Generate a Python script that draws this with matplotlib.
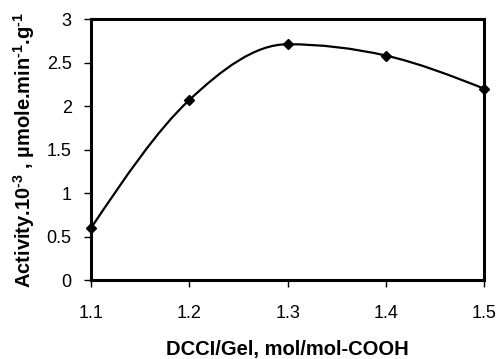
import matplotlib
matplotlib.use("Agg")
import matplotlib.pyplot as plt
from matplotlib.path import Path
from matplotlib.patches import PathPatch

# Datos
ratio = [1.1, 1.2, 1.3, 1.4, 1.5]
activity = [0.6, 2.07, 2.71, 2.58, 2.2]

x_ticks = [1.1, 1.2, 1.3, 1.4, 1.5]
y_ticks = [0, 0.5, 1, 1.5, 2, 2.5, 3]
x_tick_labels = ["1.1", "1.2", "1.3", "1.4", "1.5"]
y_tick_labels = ["0", "0.5", "1", "1.5", "2", "2.5", "3"]


def smooth_path(xs, ys):
    # curva suave: Bezier cubica, tangente central (0 en extremos locales)
    n = len(xs)
    d = [(ys[i + 1] - ys[i]) / (xs[i + 1] - xs[i]) for i in range(n - 1)]
    m = [0.0] * n
    for i in range(1, n - 1):
        if d[i - 1] * d[i] > 0:
            m[i] = (ys[i + 1] - ys[i - 1]) / (xs[i + 1] - xs[i - 1])
    m[0] = (3 * d[0] - m[1]) / 2
    m[-1] = (3 * d[-1] - m[-2]) / 2
    verts = [(xs[0], ys[0])]
    codes = [Path.MOVETO]
    for i in range(n - 1):
        h = xs[i + 1] - xs[i]
        verts += [(xs[i] + h / 3, ys[i] + m[i] * h / 3),
                  (xs[i + 1] - h / 3, ys[i + 1] - m[i + 1] * h / 3),
                  (xs[i + 1], ys[i + 1])]
        codes += [Path.CURVE4] * 3
    return Path(verts, codes)


def main():
    plt.rcParams["font.family"] = ["Liberation Sans", "DejaVu Sans"]
    plt.rcParams["mathtext.fontset"] = "custom"
    plt.rcParams["mathtext.rm"] = "Liberation Sans:bold"
    plt.rcParams["mathtext.bf"] = "Liberation Sans:bold"
    plt.rcParams["mathtext.default"] = "rm"

    fig = plt.figure(figsize=(4.98, 3.59), dpi=100)
    ax = fig.add_axes([0.183, 0.22, 0.789, 0.727])

    ax.add_patch(PathPatch(smooth_path(ratio, activity), facecolor="none",
                           edgecolor="black", lw=1.6, clip_on=False))
    ax.plot(ratio, activity, linestyle="none", marker="D", color="black",
            markersize=5, clip_on=False)

    ax.set_xlim(1.1, 1.5)
    ax.set_ylim(0, 3)
    ax.set_xticks(x_ticks)
    ax.set_xticklabels(x_tick_labels)
    ax.set_yticks(y_ticks)
    ax.set_yticklabels(y_tick_labels)
    ax.tick_params(direction="out", length=5, width=1, labelsize=13)
    ax.tick_params(axis="x", pad=13)
    ax.tick_params(axis="y", pad=9)

    for s in ax.spines.values():
        s.set_linewidth(2.2)

    ax.set_xlabel("DCCI/Gel, mol/mol-COOH", fontsize=14.5, fontweight="bold", labelpad=13)
    ax.set_ylabel("Activity.10$^{\u20103}$ , \u00b5mole.min$^{\u20101}$.g$^{\u20101}$",
                  fontsize=14.5, fontweight="bold", labelpad=7)

    fig.savefig("out.png", dpi=100)


if __name__ == "__main__":
    main()
